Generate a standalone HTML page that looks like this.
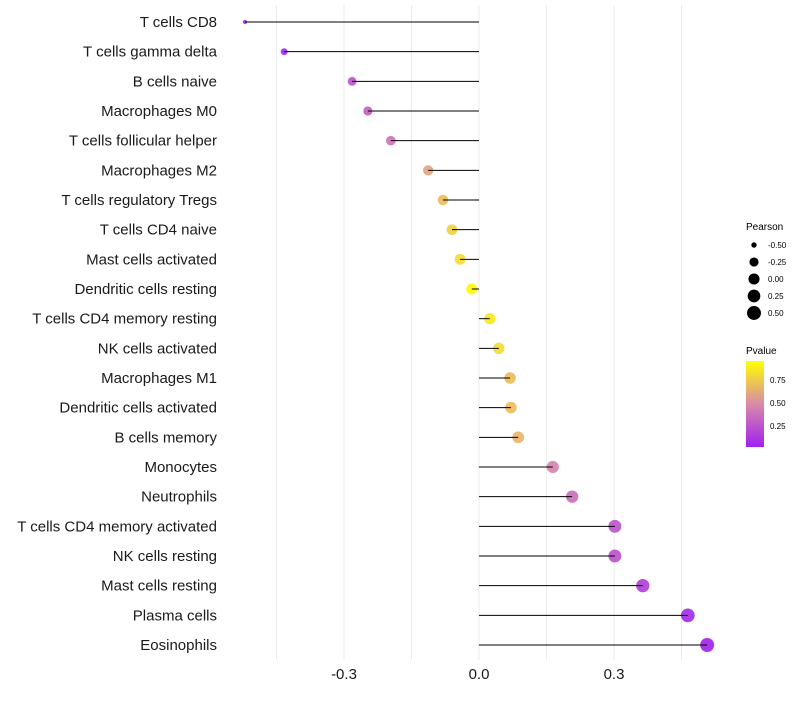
<!DOCTYPE html>
<html><head><meta charset="utf-8"><style>
body{margin:0;background:#fff;font-family:"Liberation Sans",sans-serif}
</style></head><body>
<svg id="chart" width="800" height="700" xmlns="http://www.w3.org/2000/svg" font-family="Liberation Sans, sans-serif">
<defs><linearGradient id="pg" x1="0" y1="1" x2="0" y2="0">
<stop offset="0" stop-color="#a020f0"/><stop offset="0.5" stop-color="#d98aa8"/><stop offset="1" stop-color="#ffff00"/></linearGradient></defs>
<g id="grid"></g><g id="marks"></g><g id="labels"></g><g id="ticks"></g>
<g>
<text x="746" y="230" font-size="10">Pearson</text>
<g id="sizeleg"></g>
</g>
<g>
<text x="746" y="354" font-size="10">Pvalue</text>
<rect x="746" y="361" width="18" height="86" fill="url(#pg)"/>
<text x="770" y="383" font-size="8">0.75</text>
<text x="770" y="406" font-size="8">0.50</text>
<text x="770" y="429" font-size="8">0.25</text>
</g>
</svg>
<script>
const categories=["T cells CD8","T cells gamma delta","B cells naive","Macrophages M0","T cells follicular helper","Macrophages M2","T cells regulatory  Tregs","T cells CD4 naive","Mast cells activated","Dendritic cells resting","T cells CD4 memory resting","NK cells activated","Macrophages M1","Dendritic cells activated","B cells memory","Monocytes","Neutrophils","T cells CD4 memory activated","NK cells resting","Mast cells resting","Plasma cells","Eosinophils"];
const pearson=[-0.52,-0.433,-0.282,-0.247,-0.196,-0.113,-0.08,-0.06,-0.042,-0.016,0.024,0.044,0.069,0.071,0.087,0.164,0.207,0.302,0.302,0.364,0.464,0.507];
const pvalue=[0.02,0.05,0.25,0.3,0.4,0.62,0.72,0.8,0.85,0.97,0.9,0.85,0.72,0.72,0.68,0.47,0.38,0.25,0.25,0.15,0.05,0.03];
const xTicks=[-0.3,0,0.3];
const gridVals=[-0.45,-0.3,-0.15,0,0.15,0.3,0.45];
const legendVals=[-0.5,-0.25,0,0.25,0.5];
const NS="http://www.w3.org/2000/svg";
const xs=v=>479+v*450;
const ys=i=>22+i*(623/21);
const rs=v=>2+5*Math.sqrt(Math.max(0,(v+0.52)/1.03));
function mix(a,b,t){return a.map((c,i)=>Math.round(c+(b[i]-c)*t));}
function col(p){const P=[160,32,240],M=[217,138,168],Y=[255,255,0];
const c=p<0.5?mix(P,M,p/0.5):mix(M,Y,(p-0.5)/0.5);return `rgb(${c})`;}
function el(t,a,parent){const e=document.createElementNS(NS,t);for(const k in a)e.setAttribute(k,a[k]);parent.appendChild(e);return e;}
const grid=document.getElementById('grid'),marks=document.getElementById('marks'),labels=document.getElementById('labels'),ticks=document.getElementById('ticks');
gridVals.forEach(v=>{const l=el('line',{x1:xs(v),x2:xs(v),y1:5,y2:660,stroke:'#ebebeb','stroke-width':1},grid);

});
categories.forEach((c,i)=>{
const y=ys(i);
const pt=el('circle',{cx:xs(pearson[i]),cy:y,r:rs(pearson[i]),fill:col(pvalue[i]),'fill-opacity':0.92},marks);


const ln=el('line',{x1:xs(0),x2:xs(pearson[i]),y1:y,y2:y,stroke:'#000','stroke-width':1},marks);


const t=el('text',{x:217,y:y+5,'text-anchor':'end','font-size':15,fill:'#1a1a1a'},labels);
t.textContent=c;


});
xTicks.forEach(v=>{const t=el('text',{x:xs(v),y:679,'text-anchor':'middle','font-size':15,fill:'#1a1a1a'},ticks);
t.textContent=v===0?'0.0':v.toFixed(1);

});
const sl=document.getElementById('sizeleg');
legendVals.forEach((v,i)=>{const y=245+i*17;
const c=el('circle',{cx:754,cy:y,r:rs(v),fill:'#000'},sl);


const t=el('text',{x:768,y:y+3,'font-size':8},sl);t.textContent=v.toFixed(2);

});
</script>
</body></html>
